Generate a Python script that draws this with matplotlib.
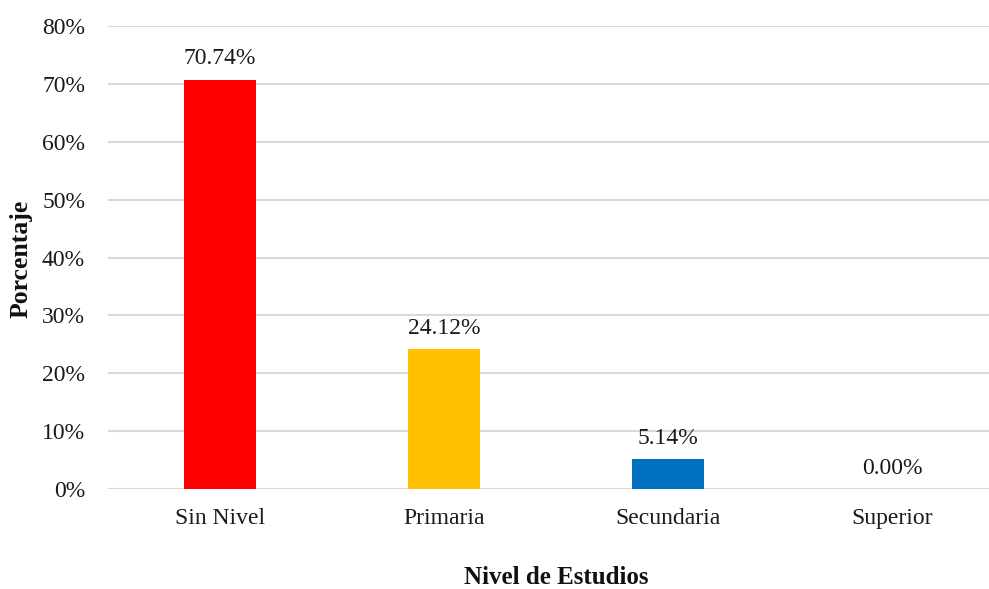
import matplotlib
matplotlib.use("Agg")
import matplotlib.pyplot as plt
from matplotlib.ticker import FuncFormatter

categories = ["Sin Nivel", "Primaria", "Secundaria", "Superior"]
values = [70.74, 24.12, 5.14, 0.00]
colors = ["#FF0000", "#FFC000", "#0070C0", "#A5A5A5"]
yticks = [0, 10, 20, 30, 40, 50, 60, 70, 80]

plt.rcParams["font.family"] = ["Liberation Serif", "DejaVu Serif"]

W, H = 989, 589
fig = plt.figure(figsize=(W / 100, H / 100), dpi=100)
left, right, bottom, top = 108, 1004, 489, 26
ax = fig.add_axes([left / W, (H - bottom) / H, (right - left) / W, (bottom - top) / H])

x = range(len(categories))
bars = ax.bar(x, values, width=0.317, color=colors, zorder=3)
for b, v in zip(bars, values):
    ax.annotate(f"{v:.2f}%", (b.get_x() + b.get_width() / 2, v),
                xytext=(0, 7.5), textcoords="offset points",
                ha="center", va="bottom", fontsize=17, color="#1a1a1a")

ax.set_xlim(-0.5, len(categories) - 0.5)
ax.set_ylim(0, 80)
ax.set_yticks(yticks)
ax.yaxis.set_major_formatter(FuncFormatter(lambda v, p: f"{v:.0f}%"))
ax.set_xticks(list(x))
ax.set_xticklabels(categories)
ax.tick_params(axis="both", length=0, labelsize=17, colors="#1a1a1a")
ax.tick_params(axis="y", pad=16.5)
ax.tick_params(axis="x", pad=13.5)
ax.grid(axis="y", color="#D9D9D9", linewidth=1.5, zorder=0)
for s in ax.spines.values():
    s.set_visible(False)

fig.text(21 / W, 1 - 259 / H, "Porcentaje", rotation=90, ha="center", va="center",
         fontsize=18.5, fontweight="bold", color="#111111")
fig.text(556 / W, 1 - 578 / H, "Nivel de Estudios", ha="center", va="center",
         fontsize=18, fontweight="bold", color="#111111")

fig.savefig("out.png", dpi=100, facecolor="white")
